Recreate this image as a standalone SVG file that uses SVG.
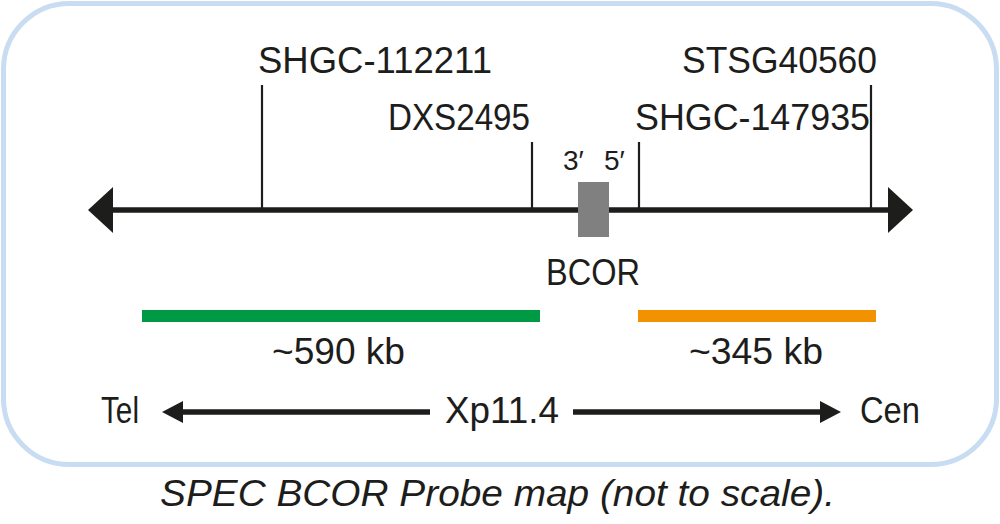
<svg xmlns="http://www.w3.org/2000/svg" width="1000" height="524" viewBox="0 0 1000 524">
<style>
text{font-family:"Liberation Sans",Arial,sans-serif;fill:#1d1d1b;font-size:36px}
.sm{font-size:28px}
.tick{stroke:#1d1d1b;stroke-width:2.2}
.axis{stroke:#1d1d1b;stroke-width:5.5}
.head{fill:#1d1d1b}
</style>
<rect x="3.5" y="3.5" width="993" height="461" rx="66" fill="#fff" stroke="#c8dcf2" stroke-width="5"/>
<g id="connectors">
<line class="axis" x1="108" y1="210" x2="892" y2="210"/>
<polygon class="head" points="88,210 113,187 113,233"/>
<polygon class="head" points="913,210 888,187 888,233"/>
<line class="tick" x1="262" y1="85" x2="262" y2="210"/>
<line class="tick" x1="532" y1="142" x2="532" y2="210"/>
<line class="tick" x1="639" y1="142" x2="639" y2="210"/>
<line class="tick" x1="871" y1="85" x2="871" y2="210"/>
<line class="axis" x1="178" y1="412" x2="430" y2="412"/>
<polygon class="head" points="162,412 183,401 183,423"/>
<line class="axis" x1="573" y1="412" x2="824" y2="412"/>
<polygon class="head" points="841,412 820,401 820,423"/>
</g>
<g id="shgc112211"><text x="258" y="73" textLength="234" lengthAdjust="spacingAndGlyphs">SHGC-112211</text></g>
<g id="dxs2495"><text x="388" y="130" textLength="142" lengthAdjust="spacingAndGlyphs">DXS2495</text></g>
<g id="stsg40560"><text x="682" y="73" textLength="195" lengthAdjust="spacingAndGlyphs">STSG40560</text></g>
<g id="shgc147935"><text x="635" y="130" textLength="235" lengthAdjust="spacingAndGlyphs">SHGC-147935</text></g>
<g id="bcor">
<rect x="578" y="182" width="31" height="55" fill="#808080"/>
<text class="sm" x="563" y="170">3′</text>
<text class="sm" x="604" y="170">5′</text>
<text x="546" y="285" textLength="94" lengthAdjust="spacingAndGlyphs">BCOR</text>
</g>
<g id="green">
<rect x="142" y="310" width="398" height="12" fill="#009a44"/>
<text x="272" y="364" textLength="133" lengthAdjust="spacingAndGlyphs">~590 kb</text>
</g>
<g id="orange">
<rect x="638" y="310" width="238" height="12" fill="#f39200"/>
<text x="689" y="364" textLength="134" lengthAdjust="spacingAndGlyphs">~345 kb</text>
</g>
<g id="tel"><text x="101" y="423" textLength="38" lengthAdjust="spacingAndGlyphs">Tel</text></g>
<g id="xp"><text x="445" y="423" textLength="114" lengthAdjust="spacingAndGlyphs">Xp11.4</text></g>
<g id="cen"><text x="860" y="423" textLength="60" lengthAdjust="spacingAndGlyphs">Cen</text></g>
<text x="160" y="506" font-style="italic" textLength="675" lengthAdjust="spacingAndGlyphs">SPEC BCOR Probe map (not to scale).</text>
</svg>
